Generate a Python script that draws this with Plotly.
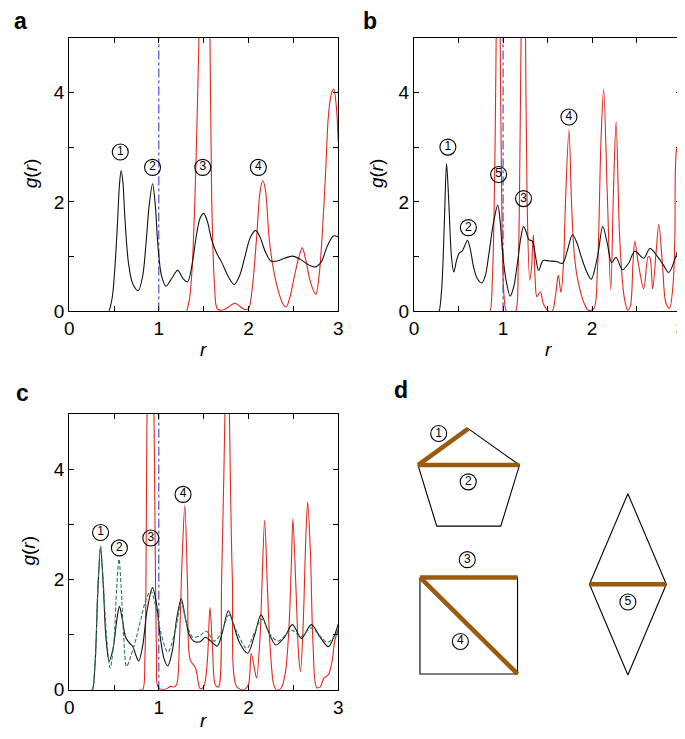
import plotly.graph_objects as go

# ---------------- data ----------------
# Panel a
a_black_r = [0.43,0.44,0.48,0.51,0.54,0.56,0.58,0.60,0.62,0.66,0.71,0.77,0.82,0.86,0.89,0.93,0.96,0.99,1.03,1.08,1.15,1.21,1.27,1.32,1.37,1.42,1.46,1.50,1.54,1.59,1.64,1.70,1.77,1.84,1.90,1.96,2.02,2.08,2.13,2.19,2.25,2.32,2.40,2.49,2.58,2.66,2.74,2.81,2.88,2.95,3.00]
a_black_g = [0,0,0.25,0.8,1.65,2.3,2.57,2.35,1.75,0.9,0.5,0.38,0.65,1.3,1.9,2.33,1.95,1.2,0.65,0.46,0.62,0.75,0.6,0.54,0.85,1.4,1.7,1.79,1.65,1.3,1.08,0.9,0.65,0.49,0.65,1.0,1.35,1.48,1.35,1.08,0.92,0.92,0.97,1.01,0.95,0.86,0.81,0.9,1.2,1.38,1.36]
a_red_r = [1.31,1.34,1.37,1.40,1.43,1.45,1.48,1.51,1.54,1.57,1.59,1.62,1.65,1.70,1.76,1.81,1.85,1.90,1.95,2.00,2.04,2.09,2.13,2.16,2.19,2.23,2.28,2.33,2.38,2.42,2.46,2.51,2.56,2.60,2.64,2.69,2.75,2.79,2.82,2.86,2.89,2.92,2.95,2.98,3.00]
a_red_g = [0,0.2,0.75,1.94,3.73,5.2,8,9,8,5.0,2.0,0.5,0.05,0.02,0.06,0.12,0.15,0.1,0.04,0.05,0.4,1.34,2.2,2.39,2.2,1.34,0.75,0.39,0.15,0.08,0.25,0.63,0.98,1.16,0.93,0.54,0.31,0.7,1.34,2.54,3.55,3.95,4.06,3.73,3.1]

# Panel b
b_black_r = [0.27,0.28,0.31,0.34,0.365,0.39,0.42,0.446,0.48,0.51,0.54,0.57,0.60,0.63,0.67,0.71,0.76,0.80,0.84,0.89,0.94,0.97,0.99,1.03,1.08,1.12,1.16,1.20,1.23,1.26,1.29,1.33,1.37,1.40,1.45,1.52,1.60,1.67,1.72,1.78,1.83,1.88,1.94,1.99,2.06,2.12,2.17,2.22,2.27,2.34,2.41,2.48,2.58,2.65,2.74,2.80,2.86,2.93,3.00]
b_black_g = [0,0,0.4,1.6,2.70,2.0,1.0,0.72,0.95,1.07,1.10,1.2,1.30,1.15,0.8,0.6,0.52,0.65,1.04,1.6,1.94,1.6,1.16,0.6,0.28,0.45,0.87,1.35,1.55,1.45,1.31,1.28,0.95,0.75,0.93,0.92,0.91,0.88,1.1,1.40,1.25,0.99,0.72,0.59,0.99,1.55,1.25,0.89,0.99,0.76,0.88,1.1,0.97,1.15,0.99,0.85,0.71,0.95,1.37]
b_red_r = [0.82,0.85,0.88,0.91,0.925,0.945,0.965,0.985,1.01,1.04,1.10,1.14,1.17,1.19,1.205,1.228,1.25,1.27,1.30,1.32,1.34,1.36,1.38,1.42,1.45,1.50,1.55,1.59,1.62,1.65,1.68,1.70,1.74,1.77,1.80,1.84,1.91,1.96,2.02,2.06,2.10,2.13,2.17,2.21,2.24,2.27,2.31,2.36,2.40,2.43,2.46,2.48,2.52,2.58,2.63,2.65,2.68,2.72,2.75,2.79,2.83,2.87,2.91,2.93,2.95,2.98,3.00]
b_red_g = [0,0,0.6,3.0,5.5,9,5.5,2.0,0.3,0,0,0,0.8,3.0,5.5,9,5.5,2.0,0.57,0.8,1.40,0.6,0.27,0.36,0.15,0.02,0,0.3,0.66,0.35,0.9,1.94,3.31,1.94,1.04,0.57,0.15,0.02,0.05,0.75,3.13,4.06,2.18,0.39,2.18,3.46,1.34,0.27,0.02,0.1,0.9,1.28,0.87,0.41,1.0,0.98,0.41,1.1,1.59,0.87,0.15,0.06,0.5,1.34,2.96,3.07,2.84]

# Panel c
c_black_r = [0.25,0.26,0.29,0.32,0.35,0.38,0.41,0.446,0.49,0.53,0.56,0.59,0.63,0.67,0.71,0.745,0.776,0.82,0.87,0.93,0.97,1.02,1.06,1.10,1.15,1.20,1.25,1.29,1.34,1.39,1.46,1.52,1.58,1.65,1.71,1.775,1.83,1.90,1.99,2.07,2.14,2.21,2.305,2.40,2.49,2.59,2.70,2.80,2.89,2.95,3.00]
c_black_g = [0,0,0.5,1.8,2.57,1.9,0.95,0.52,0.75,1.25,1.51,1.3,0.95,0.85,0.78,0.62,0.52,0.8,1.45,1.85,1.6,0.9,0.55,0.43,0.7,1.3,1.65,1.35,0.99,0.88,0.87,0.95,0.88,0.79,1.05,1.43,1.2,0.85,0.66,1.0,1.36,1.1,0.81,0.95,1.18,0.93,1.18,0.95,0.78,0.95,1.19]
c_green_r = [0.25,0.26,0.29,0.32,0.35,0.38,0.42,0.457,0.50,0.53,0.556,0.58,0.61,0.64,0.69,0.75,0.81,0.86,0.91,0.96,1.02,1.10,1.18,1.25,1.31,1.38,1.45,1.53,1.62,1.70,1.78,1.87,1.98,2.07,2.15,2.24,2.33,2.48,2.58,2.70,2.80,2.88,3.00]
c_green_g = [0,0,0.5,1.85,2.6,1.95,0.9,0.39,0.9,1.85,2.37,1.85,0.9,0.42,0.62,0.95,1.35,1.65,1.79,1.55,1.05,0.68,1.05,1.58,1.2,0.95,0.97,1.06,0.88,1.05,1.35,1.05,0.75,1.05,1.28,1.0,0.88,1.08,0.96,1.12,0.97,0.86,1.05]
c_red_r = [0.78,0.82,0.845,0.86,0.87,0.905,0.944,0.96,0.975,0.99,1.05,1.10,1.13,1.17,1.20,1.23,1.26,1.29,1.32,1.35,1.41,1.46,1.50,1.54,1.57,1.60,1.63,1.665,1.70,1.74,1.763,1.785,1.82,1.87,1.95,2.00,2.03,2.07,2.09,2.13,2.15,2.18,2.21,2.24,2.28,2.31,2.36,2.41,2.45,2.48,2.495,2.53,2.56,2.58,2.61,2.64,2.66,2.69,2.72,2.76,2.80,2.84,2.89,2.93,2.96,3.00]
c_red_g = [0,0,0.6,3,5.3,9,5.3,2.5,0.6,0.05,0,0.03,0.06,0.05,0.1,0.9,2.4,3.34,1.9,0.54,0.39,0.02,0.05,0.5,1.49,0.7,0.09,0.05,2.0,5.3,9,5.3,2.0,0.05,0,0.1,0.66,0.35,0.21,1.0,1.9,3.07,1.9,0.8,0.1,0,0.02,0.3,1.1,2.4,3.1,1.8,0.6,0.33,1.2,2.8,3.40,2.5,0.8,0.04,0.05,0.21,0.27,0.5,0.87,1.1]

ref_r = 1.0
y_limits = [0, 5]

# circled-number labels (r, g, number) per panel
a_lab_r = [0.57, 0.93, 1.49, 2.11]
a_lab_g = [2.91, 2.63, 2.63, 2.63]
a_lab_t = ["1", "2", "3", "4"]
b_lab_r = [0.38, 0.61, 0.95, 1.23, 1.74]
b_lab_g = [3.0, 1.53, 2.5, 2.06, 3.55]
b_lab_t = ["1", "2", "5", "3", "4"]
c_lab_r = [0.35, 0.56, 0.91, 1.27]
c_lab_g = [2.85, 2.57, 2.75, 3.54]
c_lab_t = ["1", "2", "3", "4"]

# Panel d schematic (drawing units, y downward)
pent_x = [462, 514, 495, 430, 411, 462]
pent_y = [427, 464, 526, 526, 464, 427]
square_x = [413, 512, 512, 413, 413]
square_y = [578, 578, 676, 676, 578]
rhomb_x = [624, 663, 624, 585, 624]
rhomb_y = [493, 585, 677, 585, 493]
bonds = {  # label: (x0, y0, x1, y1)
    "1": (411, 464, 462, 427),
    "2": (411, 464, 514, 464),
    "3": (413, 578, 512, 578),
    "4": (413, 578, 512, 676),
    "5": (585, 585, 663, 585),
}
d_lab_x = [432, 462, 461, 454, 624]
d_lab_y = [432, 481, 560, 643, 603]
d_lab_t = ["1", "2", "3", "4", "5"]

# ---------------- figure ----------------
W, H = 685, 739
RED = "#e3281f"
BLACK = "#111111"
GREEN = "#2e7d4f"
BLUE = "#2b2bd0"
BROWN = "#9a5b0e"
FONT = "Liberation Sans, Arial, sans-serif"

fig = go.Figure()

def add_curve(r, g, color, xa, ya, dash="solid", width=1.1):
    fig.add_trace(go.Scatter(x=r, y=g, mode="lines", xaxis=xa, yaxis=ya,
                             line=dict(color=color, width=width, dash=dash, shape="spline", smoothing=0.9),
                             showlegend=False, hoverinfo="skip"))

def add_ref(xa, ya):
    fig.add_trace(go.Scatter(x=[ref_r, ref_r], y=y_limits, mode="lines", xaxis=xa, yaxis=ya,
                             line=dict(color=BLUE, width=1, dash="dashdot"),
                             showlegend=False, hoverinfo="skip"))

def add_circled(xs, ys, ts, xa, ya):
    fig.add_trace(go.Scatter(x=xs, y=ys, mode="markers+text", xaxis=xa, yaxis=ya, text=ts,
                             textposition="middle center",
                             textfont=dict(family=FONT, size=12, color="black"),
                             marker=dict(symbol="circle-open", size=16, color="black", line=dict(width=1.1)),
                             cliponaxis=False, showlegend=False, hoverinfo="skip"))

# panel a
add_ref("x", "y")
add_curve(a_red_r, a_red_g, RED, "x", "y")
add_curve(a_black_r, a_black_g, BLACK, "x", "y")
add_circled(a_lab_r, a_lab_g, a_lab_t, "x", "y")
# panel b
add_ref("x2", "y2")
add_curve(b_red_r, b_red_g, RED, "x2", "y2")
add_curve(b_black_r, b_black_g, BLACK, "x2", "y2")
add_circled(b_lab_r, b_lab_g, b_lab_t, "x2", "y2")
# panel c
add_ref("x3", "y3")
add_curve(c_red_r, c_red_g, RED, "x3", "y3")
add_curve(c_black_r, c_black_g, BLACK, "x3", "y3")
add_curve(c_green_r, c_green_g, GREEN, "x3", "y3", dash="4px,2px")
add_circled(c_lab_r, c_lab_g, c_lab_t, "x3", "y3")

# panel d
for px, py in [(pent_x, pent_y), (square_x, square_y), (rhomb_x, rhomb_y)]:
    fig.add_trace(go.Scatter(x=px, y=py, mode="lines", xaxis="x4", yaxis="y4",
                             line=dict(color="black", width=1.1), showlegend=False, hoverinfo="skip"))
for k, (x0, y0, x1, y1) in bonds.items():
    fig.add_trace(go.Scatter(x=[x0, x1], y=[y0, y1], mode="lines", xaxis="x4", yaxis="y4",
                             line=dict(color=BROWN, width=4.5), showlegend=False, hoverinfo="skip"))
add_circled(d_lab_x, d_lab_y, d_lab_t, "x4", "y4")

def px2x(p):
    return p / W

def px2y(p):
    return 1 - p / H

tick_font = dict(family=FONT, size=19, color="black")

def xax(dom):
    return dict(domain=dom, range=[0, 3], tick0=0, dtick=1, ticks="inside", ticklen=5, tickwidth=1,
                tickcolor="black", showline=True, linecolor="black", linewidth=1.2, mirror="allticks",
                showgrid=False, zeroline=False, tickfont=tick_font, fixedrange=True,
                minor=dict(dtick=0.5, tick0=0, ticks="inside", ticklen=5, tickwidth=1, tickcolor="black", showgrid=False))

def yax(dom):
    return dict(domain=dom, range=y_limits, tick0=0, dtick=2, ticks="inside", ticklen=5, tickwidth=1,
                tickcolor="black", showline=True, linecolor="black", linewidth=1.2, mirror="allticks",
                showgrid=False, zeroline=False, tickfont=tick_font, fixedrange=True,
                minor=dict(dtick=1, tick0=0, ticks="inside", ticklen=5, tickwidth=1, tickcolor="black", showgrid=False))

top_dom = [px2y(308), px2y(30)]
bot_dom = [px2y(692), px2y(412)]
left_dom = [px2x(57), px2x(330)]
right_dom = [px2x(407), px2x(678)]

fig.update_layout(
    width=W, height=H, margin=dict(l=0, r=0, t=0, b=0),
    paper_bgcolor="white", plot_bgcolor="white",
    xaxis=dict(**xax(left_dom), anchor="y"),
    yaxis=dict(**yax(top_dom), anchor="x"),
    xaxis2=dict(**xax(right_dom), anchor="y2"),
    yaxis2=dict(**yax(top_dom), anchor="x2"),
    xaxis3=dict(**xax(left_dom), anchor="y3"),
    yaxis3=dict(**yax(bot_dom), anchor="x3"),
    xaxis4=dict(domain=[px2x(380), 1], range=[380, 685], visible=False, anchor="y4", fixedrange=True),
    yaxis4=dict(domain=[0, px2y(370)], range=[739, 370], visible=False, anchor="x4", fixedrange=True),
)

ann = []
title_font = dict(family=FONT, size=19, color="black")
panel_font = dict(family=FONT, size=23, color="black")
for px, py in [(18, 168), (369, 168), (16, 551)]:
    ann.append(dict(x=px2x(px), y=px2y(py), xref="paper", yref="paper", text="<i>g</i>(<i>r</i>)",
                    textangle=-90, showarrow=False, font=title_font, xanchor="center", yanchor="middle"))
for px, py in [(193, 347), (543, 347), (193, 723)]:
    ann.append(dict(x=px2x(px), y=px2y(py), xref="paper", yref="paper", text="<i>r</i>",
                    showarrow=False, font=title_font, xanchor="center", yanchor="middle"))
for t, px, py in [("a", 8, 13), ("b", 362, 13), ("c", 10, 391), ("d", 394, 388)]:
    ann.append(dict(x=px2x(px), y=px2y(py), xref="paper", yref="paper", text=f"<b>{t}</b>",
                    showarrow=False, font=panel_font, xanchor="center", yanchor="middle"))

fig.update_layout(annotations=ann)
fig.write_html("out.html")
